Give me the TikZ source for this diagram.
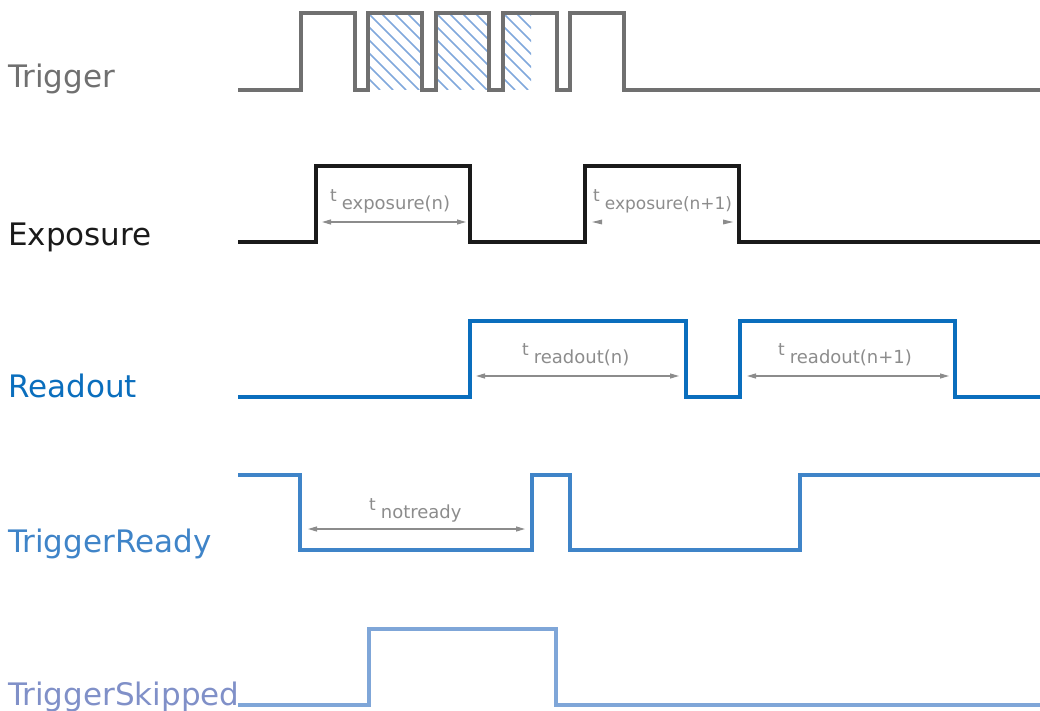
\documentclass[tikz,border=0pt]{standalone}
\usepackage{fontspec}
\setmainfont{DejaVu Sans}
\usetikzlibrary{arrows.meta}
\definecolor{trigc}{HTML}{707070}
\definecolor{expc}{HTML}{1A1A1A}
\definecolor{readc}{HTML}{0A6EBD}
\definecolor{readyc}{HTML}{3F84C8}
\definecolor{skipc}{HTML}{7FA6D8}
\definecolor{skiptext}{HTML}{8090C8}
\definecolor{hatchc}{HTML}{80A8DC}
\definecolor{dimc}{HTML}{8C8C8C}
\newcommand{\tlab}[1]{\raisebox{8pt}{\fontsize{17}{17}\selectfont t}\hspace{5pt}#1}
\begin{document}
\begin{tikzpicture}[x=1pt,y=-1pt,
  sig/.style={line width=3.2pt, line join=miter},
  biglabel/.style={font=\fontsize{31}{31}\selectfont, inner sep=0pt, anchor=base west},
  sublabel/.style={font=\fontsize{18}{18}\selectfont, text=dimc, inner sep=0pt, anchor=base west},
  hatchline/.style={draw=hatchc, line width=1.5pt},
  dim/.style={draw=dimc, line width=1.2pt, {Triangle[length=9pt,width=5pt]}-{Triangle[length=9pt,width=5pt]}}]
\useasboundingbox (0,0) rectangle (1040,711);

% hatching on trigger
\foreach \xa/\xb in {368/422, 436/489, 503/531}{
  \begin{scope}
    \clip (\xa,13) rectangle (\xb,90);
    \foreach \k in {-7,...,6}{
      \draw[hatchline] (\xa+\k*13,13) -- ++(77,77);
    }
  \end{scope}
}

% Trigger
\draw[sig, draw=trigc] (238,90) -- (301,90) -- (301,13) -- (355,13) -- (355,90) -- (368,90) -- (368,13)
  -- (422,13) -- (422,90) -- (436,90) -- (436,13) -- (489,13) -- (489,90) -- (503,90) -- (503,13)
  -- (557,13) -- (557,90) -- (570,90) -- (570,13) -- (624,13) -- (624,90) -- (1040,90);
\node[biglabel, text=trigc] (ltrig) at (8,88) {Trigger};

% Exposure
\draw[sig, draw=expc] (238,242) -- (316,242) -- (316,166) -- (470,166) -- (470,242) -- (585,242)
  -- (585,166) -- (739,166) -- (739,242) -- (1040,242);
\node[biglabel, text=expc] (lexp) at (8,245) {Exposure};
\draw[dim] (322,222) -- (466,222);
\node[sublabel] (texp1) at (330,210) {\tlab{exposure(n)}};
\fill[dimc] (592,222) -- (602,219.5) -- (602,224.5) -- cycle;
\fill[dimc] (733,222) -- (723,219.5) -- (723,224.5) -- cycle;
\node[sublabel, font=\fontsize{17}{17}\selectfont] (texp2) at (593,210) {\tlab{exposure(n+1)}};

% Readout
\draw[sig, draw=readc] (238,397) -- (470,397) -- (470,321) -- (686,321) -- (686,397) -- (740,397)
  -- (740,321) -- (955,321) -- (955,397) -- (1040,397);
\node[biglabel, text=readc] (lread) at (8,397) {Readout};
\draw[dim] (476,376) -- (679,376);
\node[sublabel] (tread1) at (522,363) {\tlab{readout(n)}};
\draw[dim] (747,376) -- (949,376);
\node[sublabel] (tread2) at (778,363) {\tlab{readout(n+1)}};

% TriggerReady
\draw[sig, draw=readyc] (238,475) -- (300,475) -- (300,550) -- (532,550) -- (532,475) -- (570,475)
  -- (570,550) -- (800,550) -- (800,475) -- (1040,475);
\node[biglabel, text=readyc] (lready) at (8,552) {TriggerReady};
\draw[dim] (308,529) -- (525,529);
\node[sublabel] (tnr) at (369,518) {\tlab{notready}};

% TriggerSkipped
\draw[sig, draw=skipc] (238,705) -- (369,705) -- (369,629) -- (556,629) -- (556,705) -- (1040,705);
\node[biglabel, text=skiptext] (lskip) at (8,705) {TriggerSkipped};
\end{tikzpicture}
\end{document}
